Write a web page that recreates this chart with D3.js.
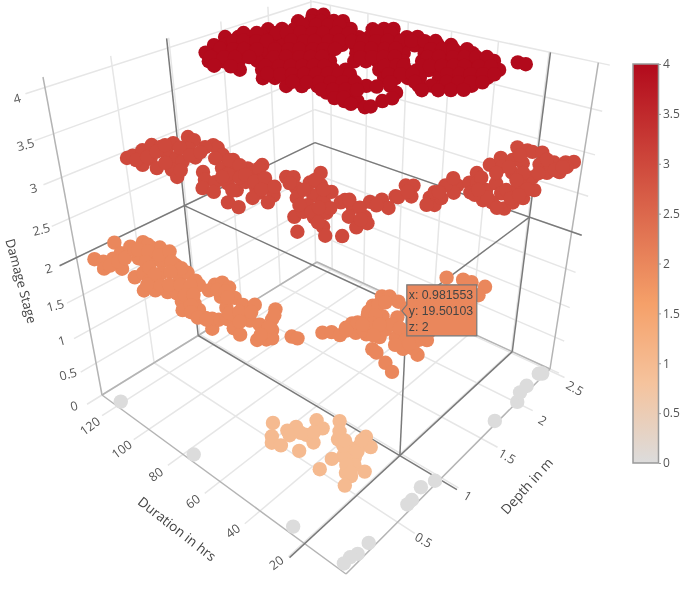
<!DOCTYPE html>
<html><head><meta charset="utf-8">
<script src="https://cdn.jsdelivr.net/npm/d3@7"></script>
<style>
html,body{margin:0;background:#fff}
svg{display:block;filter:blur(0.45px)}
text{font-family:"Open Sans",sans-serif;fill:#555}
</style>
</head><body><svg id="chart" width="685" height="597"></svg>
<script>
// [depth in m, duration in hrs], one list per damage stage
const stage0=[[0.03,121],[0.03,77],[0.03,27],[0.25,4],[0.14,4],[0.09,5],[0.03,5],[0.95,3],[0.84,5],[0.71,4],[0.66,4],[1.72,3],[2.01,2],[2.12,4],[2.22,4],[2.43,3],[2.41,4]];
const stage1=[[0.16,41],[0.07,37],[0.03,35],[0.05,32],[0.17,35],[0.23,34],[0.15,33],[0.22,29],[0.20,25],[0.36,31],[0.33,27],[0.09,26],[0.45,25],[0.32,20],[0.38,22],[0.30,16],[0.31,15],[0.36,13],[0.45,14],[0.40,10],[0.27,11],[0.23,14],[0.17,16],[0.06,16],[0.14,9],[0.22,9],[0.22,5],[0.14,7],[0.06,6],
[0.21,31],[0.27,28],[0.30,17],[0.19,11],[0.16,8],[0.32,12],[0.34,18],[0.41,14]];
const stage2=[[0.28,128],[0.05,124],[0.07,120],[0.02,116],[0.14,119],[0.10,111],[0.22,120],[0.32,121],[0.42,120],[0.41,114],[0.45,112],[0.40,104],[0.26,112],[0.31,107],[0.34,104],[0.09,103],[0.16,103],[0.12,97],[0.03,94],[0.08,91],[0.12,87],[0.24,98],[0.37,98],[0.29,91],[0.36,91],[0.33,85],[0.31,82],[0.21,81],[0.15,84],[0.11,79],[0.05,75],[0.15,75],[0.12,71],[0.09,66],[0.04,60],[0.38,78],[0.43,77],[0.42,73],[0.31,71],[0.36,67],[0.34,62],[0.29,58],[0.39,59],[0.25,65],[0.13,62],[0.17,60],[0.13,55],[0.11,51],[0.11,64],[0.25,54],[0.44,52],[0.35,49],[0.27,45],[0.26,50],[0.14,45],[0.18,43],[0.21,42],[0.22,46],[0.30,38],[0.31,36],[0.45,32],[0.49,30],[0.50,27],[0.64,28],[0.58,24],[0.58,28],[0.61,21],[0.87,29],[0.99,30],[0.77,27],[0.73,21],[0.82,23],[0.64,17],[0.52,15],[0.51,13],[0.47,8],[0.43,4],[1.02,28],[1.01,24],[0.87,19],[0.70,13],[0.64,8],[0.65,3],[0.68,6],[0.80,5],[0.77,7],[1.44,20],[1.49,15],[1.50,12],[1.51,7],[1.40,6],[0.88,7],[0.85,10],[0.981553,19.50103],
[0.07,116],[0.14,116],[0.20,116],[0.31,118],[0.42,117],[0.33,117],[0.36,113],[0.26,108],[0.38,108],[0.46,107],[0.38,101],[0.37,95],[0.23,104],[0.20,99],[0.29,96],[0.09,96],[0.14,92],[0.18,90],[0.23,87],[0.27,84],[0.17,81],[0.21,79],[0.12,75],[0.31,77],[0.35,75],[0.37,72],[0.07,72],[0.06,68],[0.08,65],[0.33,69],[0.22,62],[0.27,60],[0.20,56],[0.32,57],[0.28,47],[0.19,46],[0.39,50],[0.56,27],[0.67,27],[0.63,23],[0.80,28],[0.90,28],[0.80,25],[0.95,27],[0.72,23],[0.72,18],[0.79,18],[0.79,15],[0.77,11],[0.72,10],[0.64,11],[0.70,8],[0.83,7],[0.74,21],[0.67,25],[0.63,19]];
const stage3=[[0.45,125],[0.50,125],[0.60,126],[0.45,116],[0.70,127],[0.72,123],[0.55,118],[0.48,110],[0.82,122],[0.96,122],[0.95,118],[0.68,117],[0.67,111],[0.53,105],[0.48,99],[0.66,107],[0.76,106],[0.83,114],[0.98,109],[0.97,106],[0.91,100],[0.90,94],[0.84,100],[0.64,95],[0.57,90],[0.59,86],[0.48,86],[0.49,81],[0.63,82],[0.60,76],[0.76,92],[0.76,88],[0.87,85],[0.97,83],[0.84,81],[0.72,78],[0.70,72],[0.78,71],[0.70,64],[0.67,69],[0.59,68],[0.61,62],[0.45,72],[0.45,67],[0.46,42],[0.58,49],[0.66,49],[0.94,70],[0.97,68],[0.87,62],[0.77,57],[0.98,61],[1.00,57],[0.86,54],[0.85,49],[0.97,51],[0.65,44],[0.74,43],[0.60,38],[0.53,34],[0.59,30],[0.90,44],[0.80,44],[0.94,44],[0.90,39],[0.79,36],[0.72,30],[0.85,32],[0.80,29],[1.02,37],[1.09,35],[1.03,30],[1.18,33],[0.74,51],[1.13,63],[1.18,32],[1.34,35],[1.37,33],[1.24,29],[1.30,24],[1.24,20],[1.34,21],[1.55,22],[1.45,20],[1.78,22],[1.63,20],[1.52,16],[1.66,18],[1.61,13],[1.73,13],[1.94,22],[2.08,22],[2.30,22],[2.30,18],[2.30,16],[1.97,18],[2.10,18],[2.10,14],[1.86,17],[1.93,13],[1.63,8],[1.48,10],[1.49,7],[1.47,2],[1.57,2],[1.66,1],[1.69,8],[1.77,6],[1.89,7],[1.80,1],[1.95,6],[2.33,13],[2.15,9],[2.07,4],[2.13,1],[2.24,6],[2.29,3],[2.33,1],[2.23,1],[1.97,10],[2.03,6],
[0.47,121],[0.55,120],[0.65,121],[0.76,123],[0.80,117],[0.57,111],[0.56,102],[0.76,109],[0.92,110],[0.84,108],[0.88,95],[0.72,87],[0.87,89],[0.74,82],[0.67,87],[0.58,77],[0.79,82],[0.92,82],[0.80,75],[0.76,76],[0.84,75],[0.71,70],[0.79,68],[0.89,66],[0.88,59],[1.03,61],[0.96,54],[0.71,53],[0.69,47],[0.76,47],[0.62,41],[0.96,43],[0.92,37],[0.81,32],[1.01,34],[1.74,19],[1.51,14],[1.53,10],[1.85,9],[1.78,3],[1.61,4],[2.20,18],[1.99,16],[2.25,9],[2.14,3],[2.21,2],[1.45,4],[1.58,15],[1.68,3],[1.28,32],[1.38,25],[1.50,25],[1.62,26],[1.21,22],[1.40,24]];
const stage4=[[2.22,116],[2.28,113],[2.03,115],[2.09,111],[2.14,108],[2.20,104],[2.24,101],[1.74,117],[1.81,113],[1.86,109],[1.92,106],[1.97,102],[2.02,98],[2.08,95],[2.12,92],[2.21,85],[2.27,82],[2.31,79],[1.41,123],[1.47,119],[1.52,115],[1.58,112],[1.63,108],[1.68,105],[1.74,101],[1.79,98],[1.84,94],[1.89,90],[1.95,87],[2.00,83],[2.05,80],[2.10,76],[2.16,73],[2.21,69],[2.26,66],[1.23,119],[1.28,116],[1.34,112],[1.39,109],[1.44,105],[1.53,99],[1.58,96],[1.63,92],[1.68,89],[1.74,85],[1.79,82],[1.84,78],[1.89,75],[1.94,72],[1.99,68],[2.04,65],[2.09,61],[2.14,58],[2.20,55],[2.25,51],[1.08,115],[1.13,111],[1.18,108],[1.23,104],[1.34,97],[1.39,93],[1.44,90],[1.49,87],[1.54,83],[1.59,80],[1.71,72],[1.76,69],[1.81,66],[1.86,62],[1.91,59],[1.99,53],[2.04,50],[2.09,47],[2.14,44],[2.19,40],[0.97,107],[1.03,103],[1.10,99],[1.18,94],[1.23,90],[1.28,87],[1.33,84],[1.38,80],[1.43,77],[1.48,74],[1.57,67],[1.62,64],[1.67,61],[1.72,58],[1.77,54],[1.85,49],[1.90,46],[1.95,43],[2.00,39],[2.04,36],[2.09,33],[2.14,30],[0.98,92],[1.07,86],[1.12,83],[1.16,79],[1.21,76],[1.26,73],[1.31,70],[1.36,67],[1.41,64],[1.54,55],[1.59,52],[1.64,48],[1.68,45],[1.73,42],[1.78,39],[1.82,36],[1.92,30],[1.97,27],[2.01,24],[0.96,80],[1.01,77],[1.07,73],[1.11,71],[1.16,67],[1.20,64],[1.25,61],[1.30,58],[1.44,49],[1.48,46],[1.53,43],[1.58,40],[1.65,35],[1.70,32],[1.75,29],[1.79,26],[1.84,23],[0.95,69],[1.01,65],[1.07,61],[1.12,58],[1.16,55],[1.21,52],[1.26,49],[1.29,46],[1.35,43],[1.46,36],[1.51,33],[1.55,30],[1.60,27],[1.66,23],[1.02,55],[1.07,51],[1.11,49],[1.28,38],[0.98,46],[1.03,43],[1.12,37],[0.98,38],[1.01,37],[2.21,23],[2.21,20],
[1.98,110],[2.04,106],[2.09,102],[2.15,99],[1.56,121],[1.62,117],[1.71,111],[1.76,108],[1.82,104],[1.87,100],[1.92,97],[1.98,93],[2.03,89],[2.16,81],[2.22,77],[1.38,117],[1.43,114],[1.48,110],[1.53,107],[1.64,100],[1.69,96],[1.74,93],[1.80,89],[1.85,86],[1.90,82],[1.95,79],[2.00,75],[2.06,72],[2.11,68],[2.16,65],[2.21,61],[2.26,58],[1.20,114],[1.25,110],[1.30,107],[1.35,103],[1.43,98],[1.49,94],[1.54,91],[1.59,87],[1.64,84],[1.69,81],[1.80,74],[1.85,71],[1.90,67],[1.95,64],[2.09,54],[2.14,51],[2.19,48],[2.24,44],[1.04,110],[1.09,106],[1.14,103],[1.20,99],[1.30,92],[1.36,89],[1.41,85],[1.46,82],[1.51,79],[1.66,68],[1.71,65],[1.76,62],[1.81,59],[1.94,50],[1.99,47],[2.04,43],[2.09,40],[2.14,37],[2.18,34],[0.93,102],[0.99,97],[1.14,88],[1.19,84],[1.24,81],[1.29,78],[1.34,75],[1.38,72],[1.62,56],[1.67,53],[1.70,51],[1.77,46],[1.80,44],[1.85,41],[1.90,38],[1.94,35],[1.99,31],[2.04,28],[1.04,82],[1.08,78],[1.13,75],[1.18,72],[1.23,69],[1.28,66],[1.32,63],[1.36,60],[1.51,50],[1.56,47],[1.61,44],[1.74,35],[1.79,32],[1.83,29],[1.88,26],[1.92,23],[1.03,70],[1.08,66],[1.13,63],[1.17,60],[1.22,57],[1.27,54],[1.40,45],[1.50,39],[1.62,31],[1.66,28],[1.71,25],[1.75,22],[1.04,58],[1.08,55],[1.13,52],[1.17,49],[1.41,33],[1.47,29],[1.52,26],[1.57,23],[0.98,50],[1.02,48],[1.19,36],[0.97,43]];
const stages=[[0,stage0],[1,stage1],[2,stage2],[3,stage3],[4,stage4]];
const xTicks=[0.5,1,1.5,2,2.5], yTicks=[20,40,60,80,100,120], zTicks=[0,0.5,1,1.5,2,2.5,3,3.5,4];
const hover={x:0.981553,y:19.50103,z:2};

const svg=d3.select('#chart');
const sx=d3.scaleLinear().domain([-0.02,2.52]).range([0,1]);
const sy=d3.scaleLinear().domain([2,130]).range([0,1]);
const sz=d3.scaleLinear().domain([0,4.11]).range([0,1]);
const colour=d3.scaleLinear().domain([0,0.8,1.6,4]).range(['rgb(220,220,220)','rgb(245,195,157)','rgb(245,160,105)','rgb(178,10,28)']);

// perspective camera fitted to the box corners on the page
const F=[346,574],R=[550,369],B=[317,262],L=[102,395],L1=[43,77],R1=[600,72];
function camera(){
    const dx1=R[0]-B[0],dx2=L[0]-B[0],sX=F[0]-R[0]+B[0]-L[0];
    const dy1=R[1]-B[1],dy2=L[1]-B[1],sY=F[1]-R[1]+B[1]-L[1];
    const den=dx1*dy2-dx2*dy1;
    const g=(sX*dy2-dx2*sY)/den,h=(dx1*sY-sX*dy1)/den;
    const cu=[R[0]-F[0]+g*R[0],R[1]-F[1]+g*R[1],g];
    const cv=[L[0]-F[0]+h*L[0],L[1]-F[1]+h*L[1],h];
    const c0=[F[0],F[1],1];
    const hL=[cv[0]+c0[0],cv[1]+c0[1],cv[2]+c0[2]],hR=[cu[0]+c0[0],cu[1]+c0[1],cu[2]+c0[2]];
    const al=((hL[0]-hR[0])-(hL[2]-hR[2])*R1[0])/(L1[0]-R1[0]);
    const cw=[al*L1[0]-hL[0],al*L1[1]-hL[1],al-hL[2]];
    return {cu,cv,cw,c0};
}
const cam=camera();
function project(x,y,z){
    const u=sx(x),v=sy(y),w=sz(z);
    const p=[0,1,2].map(i=>u*cam.cu[i]+v*cam.cv[i]+w*cam.cw[i]+cam.c0[i]);
    return [p[0]/p[2],p[1]/p[2]];
}
function line3(a,b,col,wd){
    const p=project(...a),q=project(...b);
    svg.append('line').attr('x1',p[0]).attr('y1',p[1]).attr('x2',q[0]).attr('y2',q[1])
        .attr('stroke',col).attr('stroke-width',wd);
}

const [x0,x1]=sx.domain(),[y0,y1]=sy.domain(),[z0,z1]=sz.domain();
const gridCol='#e6e6e6',edgeCol='#b4b4b4',spikeCol='#7a7a7a';
const xOut=x0-0.14,yOut=y0-7,yOutWall=y0-4,zRight=4.0;

xTicks.forEach(t=>{line3([t,yOut,0],[t,y1,0],gridCol,1.5);line3([t,y1,0],[t,y1,z1],gridCol,1.5)});
yTicks.forEach(t=>{line3([xOut,t,0],[x1,t,0],gridCol,1.5);line3([x1,t,0],[x1,t,zRight],gridCol,1.5)});
zTicks.forEach(t=>{line3([xOut,y1,t],[x1,y1,t],gridCol,1.5);line3([x1,y1,t],[x1,yOutWall,t],gridCol,1.5)});
line3([x0,y1,0],[x1,y1,0],edgeCol,1.5);line3([x1,y1,0],[x1,y0,0],edgeCol,1.5);
line3([x0,y1,0],[x0,y0,0],edgeCol,1.5);line3([x0,y0,0],[x1,y0,0],edgeCol,1.5);
line3([x0,y1,0],[x0,y1,z1],edgeCol,1.5);line3([x1,y0,0],[x1,y0,zRight],edgeCol,1.5);

// hover spikes, through the point and on the three walls
const h=hover;
line3([h.x,yOut,0],[h.x,y1,0],spikeCol,1.5);
line3([xOut,h.y,0],[x1,h.y,0],spikeCol,1.5);
line3([h.x,y1,0],[h.x,y1,z1],spikeCol,1.5);
line3([xOut,y1,h.z],[x1,y1,h.z],spikeCol,1.5);
line3([x1,h.y,0],[x1,h.y,zRight],spikeCol,1.5);
line3([x1,y1,h.z],[x1,yOutWall,h.z],spikeCol,1.5);
line3([h.x,h.y,0],[h.x,h.y,h.z],spikeCol,1.5);
line3([h.x,h.y,h.z],[h.x,y1,h.z],spikeCol,1.5);
line3([h.x,h.y,h.z],[x1,h.y,h.z],spikeCol,1.5);

stages.forEach(([z,pts])=>{
    svg.append('g').selectAll('circle').data(pts).enter().append('circle')
        .attr('cx',d=>project(d[0],d[1],z)[0])
        .attr('cy',d=>project(d[0],d[1],z)[1])
        .attr('r',7.2)
        .attr('fill',colour(z));
});

function label(s,p,dx,dy,rot){
    svg.append('text').attr('transform',`translate(${p[0]+dx},${p[1]+dy}) rotate(${rot})`)
        .attr('text-anchor','middle').attr('dy','0.35em').attr('font-size',12.5).text(s);
}
xTicks.forEach(t=>label(t,project(t,y0,0),26,18,30));
yTicks.forEach(t=>label(t,project(x0,t,0),-27,20,-36));
zTicks.forEach(t=>label(t,project(x0,y1,t),-28,11,-15));

function title(s,cx,cy,rot,size){
    svg.append('text').attr('transform',`translate(${cx},${cy}) rotate(${rot})`)
        .attr('text-anchor','middle').attr('dy','0.35em').attr('font-size',size).style('fill','#444').text(s);
}
title('Damage Stage',21,281,75,13);
title('Duration  in hrs',177,529,38,13.5);
title('Depth in m',527,486,-48,13.5);

// colour bar
const barY=d3.scaleLinear().domain([0,4]).range([463,64]);
const grad=svg.append('defs').append('linearGradient').attr('id','bar').attr('x1',0).attr('x2',0).attr('y1',1).attr('y2',0);
colour.domain().forEach(v=>grad.append('stop').attr('offset',v/4).attr('stop-color',colour(v)));
svg.append('rect').attr('x',633).attr('y',64).attr('width',25.5).attr('height',399)
    .attr('fill','url(#bar)').attr('stroke','#999').attr('stroke-width',1.5);
const barAxis=svg.append('g').attr('transform','translate(659,0)')
    .call(d3.axisRight(barY).tickValues(zTicks).tickFormat(d=>d).tickSize(2).tickPadding(2));
barAxis.select('.domain').remove();
barAxis.selectAll('line').attr('stroke','#999');
barAxis.selectAll('text').attr('font-size',12).attr('font-family','"Open Sans",sans-serif').attr('fill','#555');

// hover label
const hp=project(h.x,h.y,h.z);
const tip=svg.append('g').attr('transform',`translate(${hp[0]-5},${hp[1]+2})`);
tip.append('path').attr('d','M0,0 L5,-6 V-26 H75 V25 H5 V6 Z').attr('fill',colour(h.z)).attr('stroke','#777').attr('stroke-width',1.2);
[`x: ${h.x}`,`y: ${h.y}`,`z: ${h.z}`].forEach((s,i)=>{
    tip.append('text').attr('x',7).attr('y',-12+i*16).attr('font-size',12.3).style('font-family','"Liberation Sans",Arial,sans-serif').style('fill','#444').text(s);
});
</script></body></html>
